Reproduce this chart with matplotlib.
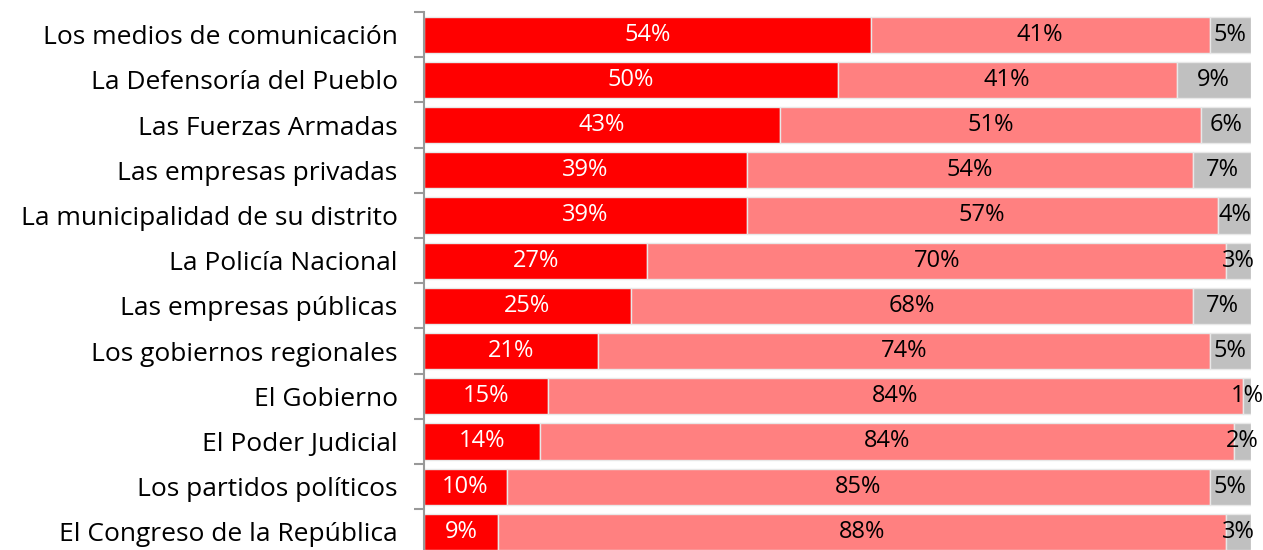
import numpy as np
import matplotlib
matplotlib.use('Agg')
import matplotlib.pyplot as plt

# datos del gráfico (porcentajes)
categorias = ['Los medios de comunicación', 'La Defensoría del Pueblo',
              'Las Fuerzas Armadas', 'Las empresas privadas',
              'La municipalidad de su distrito', 'La Policía Nacional',
              'Las empresas públicas', 'Los gobiernos regionales',
              'El Gobierno', 'El Poder Judicial', 'Los partidos políticos',
              'El Congreso de la República']
confia = [54, 50, 43, 39, 39, 27, 25, 21, 15, 14, 10, 9]
no_confia = [41, 41, 51, 54, 57, 70, 68, 74, 84, 84, 85, 88]
no_sabe = [5, 9, 6, 7, 4, 3, 7, 5, 1, 2, 5, 3]

plt.rcParams['font.family'] = ['Open Sans', 'DejaVu Sans']

fig = plt.figure(figsize=(12.63, 5.5), dpi=100)
ax = fig.add_axes([424 / 1263, -4.5 / 550, (1251 - 424) / 1263, 542.5 / 550])

y = np.arange(len(categorias))
series = [(confia, '#FF0000', 'white'),
          (no_confia, '#FF8080', 'black'),
          (no_sabe, '#C0C0C0', 'black')]
izq = np.zeros(len(categorias))
for vals, color, tcolor in series:
    vals = np.array(vals, dtype=float)
    ax.barh(y, vals, left=izq, height=0.8, color=color,
            edgecolor='#E8E8E8', linewidth=1)
    for yi, l, v in zip(y, izq, vals):
        ax.text(l + v / 2, yi, '%d%%' % v, ha='center', va='center',
                color=tcolor, fontsize=17)
    izq += vals

ax.set_xlim(0, 100)
ax.set_ylim(len(categorias) - 0.5, -0.5)
ax.set_yticks(y)
ax.set_yticklabels(categorias, fontsize=19)
ax.set_yticks(np.arange(len(categorias) + 1) - 0.5, minor=True)
ax.tick_params(axis='y', which='major', length=0, pad=19)
ax.tick_params(axis='y', which='minor', length=7, width=1.5, color='#999999')
ax.set_xticks([])
for s in ['top', 'right', 'bottom']:
    ax.spines[s].set_visible(False)
ax.spines['left'].set_color('#999999')
ax.spines['left'].set_linewidth(1.5)

plt.savefig('out.png', dpi=100)
